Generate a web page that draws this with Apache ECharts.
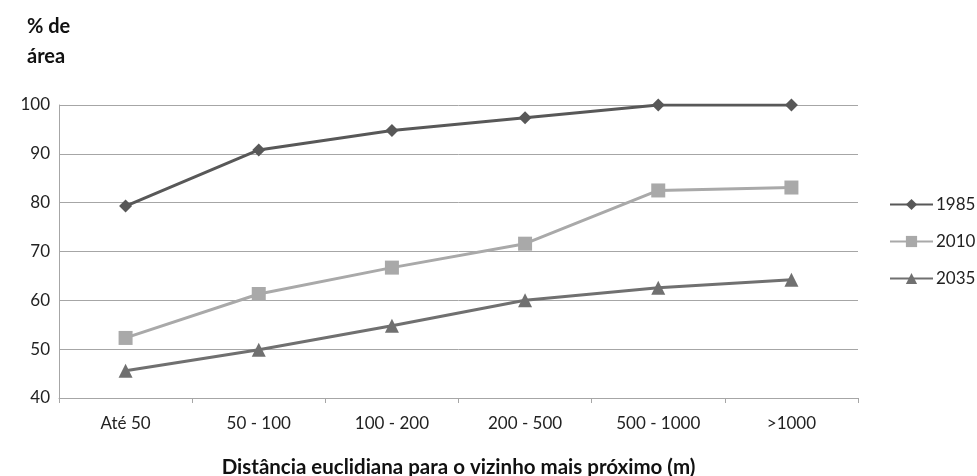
<!DOCTYPE html>
<html>
<head>
<meta charset="utf-8">
<script src="https://cdn.jsdelivr.net/npm/echarts@6/dist/echarts.min.js"></script>
<style>
  html, body { margin: 0; padding: 0; background: #fff; }
  #chart { width: 977px; height: 476px; }
</style>
</head>
<body>
<div id="chart"></div>
<script>
// Distance classes to the nearest neighbour
const categories = ['Até 50', '50 - 100', '100 - 200', '200 - 500', '500 - 1000', '>1000'];

// Cumulative % of area per year
const s1985 = [79.3, 90.8, 94.8, 97.4, 100, 100];
const s2010 = [52.3, 61.3, 66.7, 71.6, 82.5, 83.1];
const s2035 = [45.6, 49.9, 54.8, 60.0, 62.6, 64.2];

const seriesNames = ['1985', '2010', '2035'];
const yTicks = { min: 40, max: 100, interval: 10 };

const FONT = 'Lato, "Open Sans", sans-serif';

const chart = echarts.init(document.getElementById('chart'), null, { renderer: 'canvas' });

function lineSeries(name, data, color, symbol, size) {
  return {
    name: name,
    type: 'line',
    data: data,
    symbol: symbol,
    symbolSize: size,
    lineStyle: { color: color, width: 3 },
    itemStyle: { color: color },
    emphasis: { disabled: true },
    animation: false
  };
}

chart.setOption({
  backgroundColor: '#ffffff',
  textStyle: { fontFamily: FONT },
  grid: { left: 59, right: 119, top: 105, bottom: 78, containLabel: false, outerBoundsMode: 'none' },
  legend: {
    orient: 'vertical',
    left: 889,
    top: 196,
    padding: 0,
    itemWidth: 43,
    itemHeight: 14,
    itemGap: 20,
    textStyle: { fontFamily: FONT, fontSize: 17, lineHeight: 17, color: '#222', padding: [0, 0, 0, -2] },
    data: seriesNames
  },
  graphic: [{
    type: 'text',
    left: 27,
    top: 12,
    style: {
      text: '% de\nárea',
      font: 'bold 20px ' + FONT,
      lineHeight: 30,
      fill: '#111'
    }
  }],
  xAxis: {
    type: 'category',
    data: categories,
    boundaryGap: true,
    name: 'Distância euclidiana para o vizinho mais próximo (m)',
    nameLocation: 'middle',
    nameGap: 59,
    nameTextStyle: { fontFamily: FONT, fontSize: 20.5, fontWeight: 'bold', color: '#111' },
    axisLine: { lineStyle: { color: '#a6a6a6', width: 1 } },
    axisTick: { show: true, length: 5, lineStyle: { color: '#a6a6a6' } },
    axisLabel: { fontFamily: FONT, fontSize: 17, color: '#222', margin: 17 },
    splitLine: { show: false }
  },
  yAxis: {
    type: 'value',
    min: yTicks.min,
    max: yTicks.max,
    interval: yTicks.interval,
    axisLine: { show: true, lineStyle: { color: '#a6a6a6', width: 1 } },
    axisTick: { show: false },
    axisLabel: { fontFamily: FONT, fontSize: 17, color: '#222', margin: 9 },
    splitLine: { show: true, lineStyle: { color: '#a6a6a6', width: 1 } }
  },
  series: [
    lineSeries(seriesNames[0], s1985, '#585858', 'diamond', 13),
    lineSeries(seriesNames[1], s2010, '#a9a9a9', 'rect', 14),
    lineSeries(seriesNames[2], s2035, '#707070', 'triangle', 14)
  ]
});
</script>
</body>
</html>
